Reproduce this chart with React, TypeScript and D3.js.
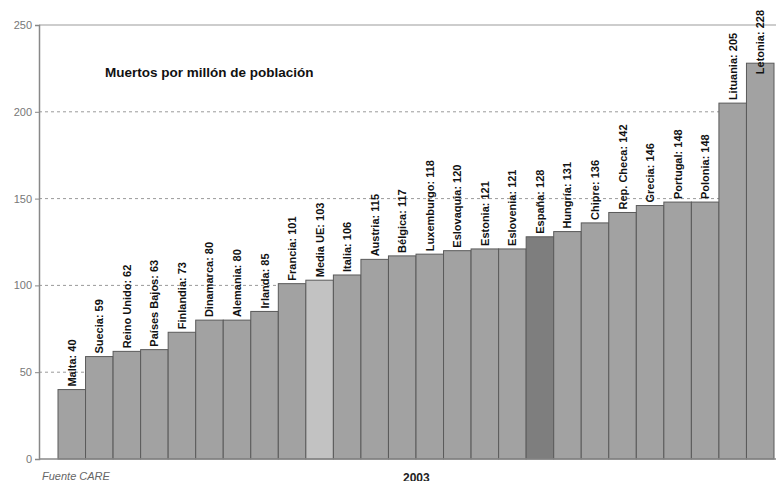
import { useRef, useEffect } from "react";
import * as d3 from "d3";

const countries = [
  "Malta", "Suecia", "Reino Unido", "Países Bajos", "Finlandia", "Dinamarca",
  "Alemania", "Irlanda", "Francia", "Media UE", "Italia", "Austria", "Bélgica",
  "Luxemburgo", "Eslovaquia", "Estonia", "Eslovenia", "España", "Hungría",
  "Chipre", "Rep. Checa", "Grecia", "Portugal", "Polonia", "Lituania", "Letonia",
];
const deaths = [
  40, 59, 62, 63, 73, 80, 80, 85, 101, 103, 106, 115, 117, 118, 120, 121, 121,
  128, 131, 136, 142, 146, 148, 148, 205, 228,
];
const yTicks = [0, 50, 100, 150, 200, 250];

const App = () => {
  const chartRef = useRef<HTMLDivElement>(null);

  useEffect(() => {
    const el = chartRef.current;
    if (!el) return;
    d3.select(el).selectAll("*").remove();

    const width = 784;
    const height = 489;

    const svg = d3
      .select(el)
      .append("svg")
      .attr("width", width)
      .attr("height", height)
      .style("display", "block")
      .style("font-family", "'Liberation Sans', Arial, sans-serif");

    const x = d3.scaleBand<string>().domain(countries).range([58, 774]).padding(0);
    const y = d3.scaleLinear().domain([0, 250]).range([459, 25]);

    // gridlines
    svg
      .append("g")
      .selectAll("line")
      .data(yTicks.filter(t => t > 0 && t < 250))
      .enter()
      .append("line")
      .attr("x1", 39)
      .attr("x2", width)
      .attr("y1", d => y(d))
      .attr("y2", d => y(d))
      .attr("stroke", "#9a9a9a")
      .attr("stroke-dasharray", "3,3");

    // top border
    svg
      .append("line")
      .attr("x1", 39)
      .attr("x2", width)
      .attr("y1", y(250))
      .attr("y2", y(250))
      .attr("stroke", "#bdbdbd")
      .attr("stroke-width", 1.5);

    // left axis
    const yAxis = svg
      .append("g")
      .attr("transform", "translate(39,0)")
      .call(d3.axisLeft(y).tickValues(yTicks).tickSize(4).tickPadding(3));
    yAxis.select(".domain").attr("stroke", "#888").attr("stroke-width", 1.5);
    yAxis.selectAll(".tick line").attr("stroke", "#888");
    yAxis
      .selectAll(".tick text")
      .attr("fill", "#777")
      .style("font-size", "11px")
      .style("font-family", "'Liberation Sans', Arial, sans-serif");

    // bars
    svg
      .append("g")
      .selectAll("rect")
      .data(deaths)
      .enter()
      .append("rect")
      .attr("x", (_d, i) => x(countries[i]) as number)
      .attr("y", d => y(d))
      .attr("width", x.bandwidth())
      .attr("height", d => y(0) - y(d))
      .attr("fill", (_d, i) =>
        countries[i] === "Media UE" ? "#c2c2c2" : countries[i] === "España" ? "#7e7e7e" : "#a2a2a2"
      )
      .attr("stroke", "#5a5a5a")
      .attr("stroke-width", 1);

    // baseline
    svg
      .append("line")
      .attr("x1", 39)
      .attr("x2", width)
      .attr("y1", y(0))
      .attr("y2", y(0))
      .attr("stroke", "#888")
      .attr("stroke-width", 1.5);

    // value labels
    const labels = svg
      .append("g")
      .selectAll("text")
      .data(deaths)
      .enter()
      .append("text")
      .attr("text-anchor", "start")
      .attr("dominant-baseline", "central")
      .style("font-size", "11px")
      .style("font-weight", "bold")
      .attr("fill", "#111")
      .text((d, i) => `${countries[i]}: ${d}`);

    labels.each(function (d, i) {
      const node = this as SVGTextElement;
      const len = node.getComputedTextLength();
      const cx = (x(countries[i]) as number) + x.bandwidth() / 2;
      let start = y(d) - 3;
      if (start - len < 10) start = 10 + len;
      d3.select(node).attr("transform", `translate(${cx},${start}) rotate(-90)`);
    });

    // title
    svg
      .append("text")
      .attr("x", 105)
      .attr("y", 77)
      .style("font-size", "13.5px")
      .style("font-weight", "bold")
      .attr("fill", "#111")
      .text("Muertos por millón de población");

    svg
      .append("text")
      .attr("x", 42)
      .attr("y", 480)
      .style("font-size", "11px")
      .style("font-style", "italic")
      .attr("fill", "#666")
      .text("Fuente CARE");

    svg
      .append("text")
      .attr("x", 403)
      .attr("y", 482)
      .style("font-size", "12px")
      .style("font-weight", "bold")
      .attr("fill", "#222")
      .text("2003");

    return () => {
      d3.select(el).selectAll("*").remove();
    };
  }, []);

  return <div ref={chartRef} style={{ margin: -8, overflow: "hidden" }}></div>;
};

export default App;
